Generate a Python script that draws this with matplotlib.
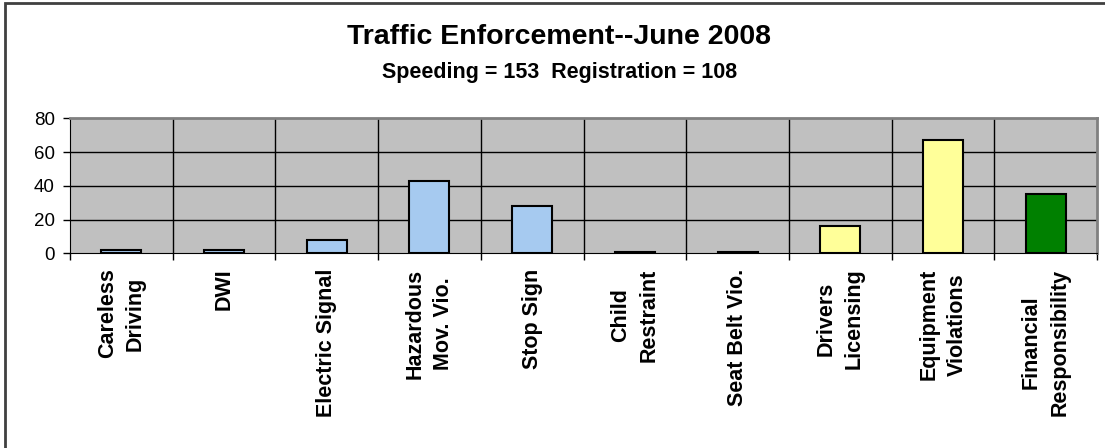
import matplotlib
matplotlib.use("Agg")
import matplotlib.pyplot as plt
from matplotlib.patches import Rectangle

categories = [
	"Careless\nDriving",
	"DWI",
	"Electric Signal",
	"Hazardous\nMov. Vio.",
	"Stop Sign",
	"Child\nRestraint",
	"Seat Belt Vio.",
	"Drivers\nLicensing",
	"Equipment\nViolations",
	"Financial\nResponsibility",
]
counts = [2, 2, 8, 43, 28, 1, 1, 16, 67, 35]
groups = ["moving"] * 7 + ["equipment"] * 2 + ["financial"]
group_colors = {"moving": "#A6CAF0", "equipment": "#FFFF99", "financial": "#008000"}
title = "Traffic Enforcement--June 2008"
subtitle = "Speeding = 153  Registration = 108"
y_ticks = [0, 20, 40, 60, 80]

plt.rcParams["font.family"] = ["Liberation Sans", "DejaVu Sans"]

fig = plt.figure(figsize=(11.05, 4.48), dpi=100)
fig.patch.set_facecolor("white")

# outer chart frame (cropped on right/bottom)
fig.patches.append(Rectangle((5 / 1105, -0.1), 1.2, 1.1 - 3.5 / 448, transform=fig.transFigure,
	fill=False, edgecolor="#404040", linewidth=2.0))

ax = fig.add_axes([70 / 1105, 1 - 253.3 / 448, (1097 - 70) / 1105, (253.3 - 118.3) / 448])
ax.set_facecolor("#C0C0C0")

x = list(range(len(categories)))
colors = [group_colors[g] for g in groups]
ax.bar(x, counts, width=0.39, color=colors, edgecolor="black", linewidth=1.5, zorder=3)

ax.set_xlim(-0.5, len(categories) - 0.5)
ax.set_ylim(0, 80)
ax.set_yticks(y_ticks)
ax.tick_params(axis="y", labelsize=13.5, length=5, width=1, direction="out", pad=6)

# category boundaries carry the ticks and the vertical grid
ax.set_xticks([i - 0.5 for i in range(len(categories) + 1)])
ax.set_xticklabels([])
ax.tick_params(axis="x", length=5, width=1, direction="out")
for i in range(1, len(categories)):
	ax.axvline(i - 0.5, color="black", linewidth=1.0, zorder=1)
for yv in y_ticks[1:-1]:
	ax.axhline(yv, color="black", linewidth=1.0, zorder=1)

for i, lab in enumerate(categories):
	ax.annotate(lab, xy=(i, 0), xycoords="data", xytext=(0, -11), textcoords="offset points",
		rotation=90, ha="center", va="top", multialignment="center",
		fontsize=15.5, fontweight="bold", linespacing=1.45)

ax.spines["left"].set_color("black")
ax.spines["bottom"].set_color("black")
ax.spines["top"].set_color("#808080")
ax.spines["right"].set_color("#808080")
ax.spines["top"].set_linewidth(2)
ax.spines["right"].set_linewidth(2)

fig.text(559 / 1105, 1 - 37.5 / 448, title, ha="center", va="center", fontsize=20.5, fontweight="bold")
fig.text(560 / 1105, 1 - 72.5 / 448, subtitle, ha="center", va="center", fontsize=15.5, fontweight="bold")

fig.savefig("out.png", dpi=100)
